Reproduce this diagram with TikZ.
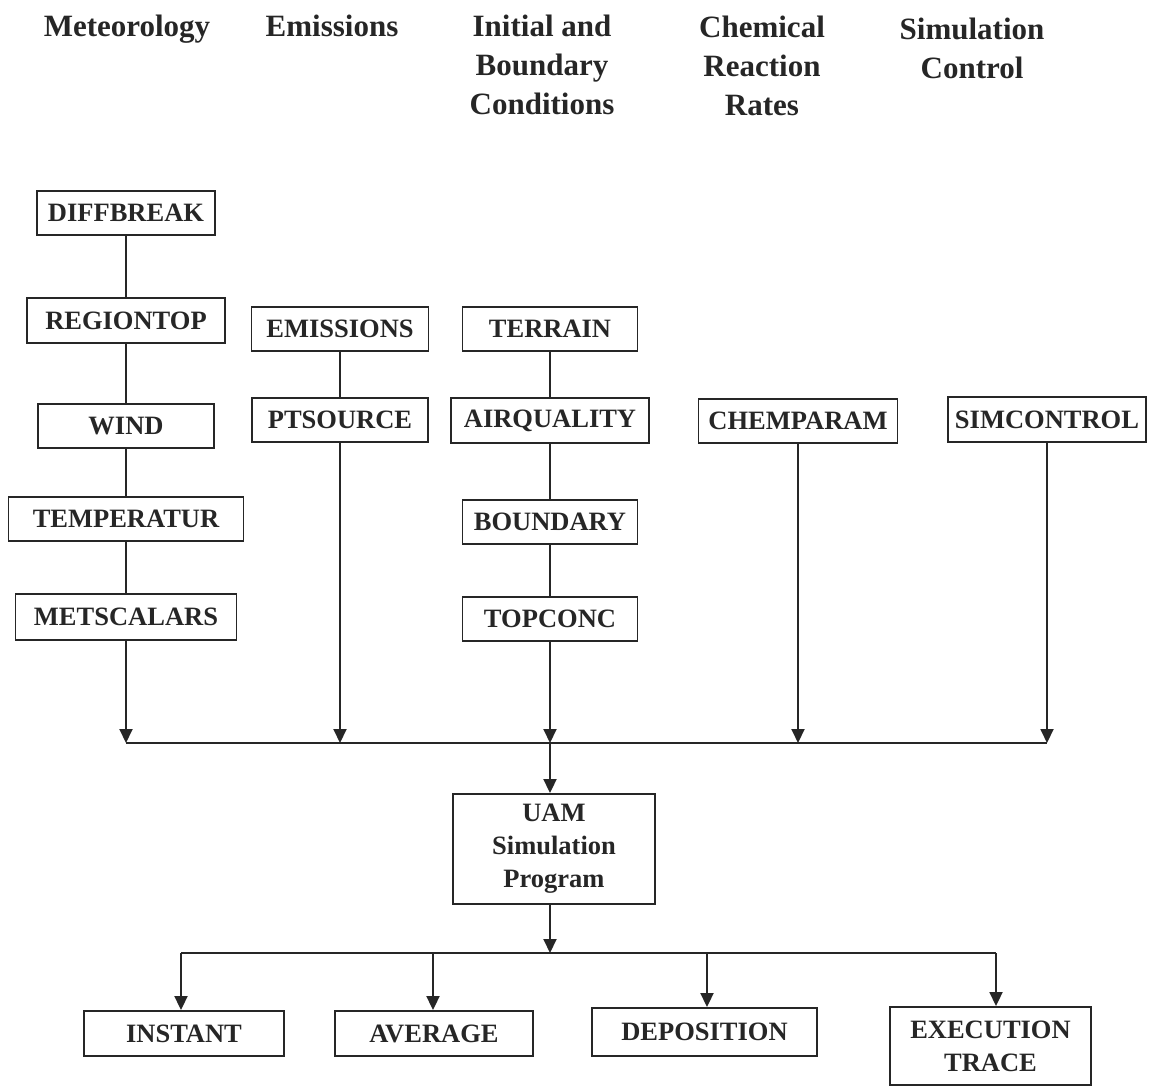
\documentclass[tikz,border=0pt]{standalone}
\usepackage{fontspec}
\setmainfont{Liberation Serif}
\usetikzlibrary{arrows.meta}
\definecolor{ink}{HTML}{262626}
\begin{document}
\begin{tikzpicture}[x=1pt,y=-1pt,
  box/.style={draw=ink, line width=1.9pt, inner sep=0pt, text=ink, align=center,
    font=\fontsize{26.5}{33}\selectfont\bfseries},
  head/.style={text=ink, inner sep=0pt, anchor=north, align=center,
    font=\fontsize{31}{39}\selectfont\bfseries},
  link/.style={draw=ink, line width=1.9pt},
  arr/.style={link, -{Triangle[length=14pt,width=13pt]}}]
\useasboundingbox (0,0) rectangle (1150,1087);

% headers
\node[head] (hmet)  at (127,15) {Meteorology};
\node[head] (hemi)  at (332,15) {Emissions};
\node[head] (hinit) at (542,15) {Initial and\\Boundary\\Conditions};
\node[head] (hchem) at (762,16) {Chemical\\Reaction\\Rates};
\node[head] (hsim)  at (972,18) {Simulation\\Control};

% meteorology column
\node[box, minimum width=178pt, minimum height=44pt] (diff) at (126,213) {DIFFBREAK};
\node[box, minimum width=198pt, minimum height=45pt] (reg)  at (126,320.5) {REGIONTOP};
\node[box, minimum width=176pt, minimum height=44pt] (wind) at (126,426) {WIND};
\node[box, minimum width=235pt, minimum height=44pt] (temp) at (126,519) {TEMPERATUR};
\node[box, minimum width=221pt, minimum height=46pt] (met)  at (126,617) {METSCALARS};

% emissions column
\node[box, minimum width=177pt, minimum height=44pt] (emis) at (340,329) {EMISSIONS};
\node[box, minimum width=176pt, minimum height=44pt] (pts)  at (340,420) {PTSOURCE};

% initial and boundary column
\node[box, minimum width=175pt, minimum height=44pt] (terr) at (550,329) {TERRAIN};
\node[box, minimum width=198pt, minimum height=45pt] (airq) at (550,420.5) {AIRQUALITY};
\node[box, minimum width=175pt, minimum height=44pt] (bnd)  at (550,522) {BOUNDARY};
\node[box, minimum width=175pt, minimum height=44pt] (topc) at (550,619) {TOPCONC};

% chemistry and control
\node[box, minimum width=199pt, minimum height=44pt] (chem) at (798,421) {CHEMPARAM};
\node[box, minimum width=198pt, minimum height=45pt] (sim)  at (1047,419.5) {SIMCONTROL};

% program
\node[box, minimum width=202pt, minimum height=110pt] (uam) at (554,849) {UAM\\Simulation\\Program};

% outputs
\node[box, minimum width=200pt, minimum height=45pt] (inst) at (184,1033.5) {INSTANT};
\node[box, minimum width=198pt, minimum height=45pt] (avg)  at (434,1033.5) {AVERAGE};
\node[box, minimum width=225pt, minimum height=48pt] (dep)  at (704.5,1032) {DEPOSITION};
\node[box, minimum width=201pt, minimum height=78pt] (exec) at (990.5,1046) {EXECUTION\\TRACE};

% bus coordinates
\coordinate (m1) at (126,743);
\coordinate (p1) at (340,743);
\coordinate (t1) at (550,743);
\coordinate (c1) at (798,743);
\coordinate (s1) at (1047,743);
\coordinate (u2) at (550,953);
\coordinate (o1) at (181,953);
\coordinate (o2) at (433,953);
\coordinate (o3) at (707,953);
\coordinate (o4) at (996,953);

% chains
\draw[link] (diff) -- (reg);
\draw[link] (reg) -- (wind);
\draw[link] (wind) -- (temp);
\draw[link] (temp) -- (met);
\draw[link] (emis) -- (pts);
\draw[link] (terr) -- (airq);
\draw[link] (airq) -- (bnd);
\draw[link] (bnd) -- (topc);

% input bus
\draw[link] (m1) -- (s1);
\draw[arr] (met) -- (m1);
\draw[arr] (pts) -- (p1);
\draw[arr] (topc) -- (t1);
\draw[arr] (chem) -- (c1);
\draw[arr] (sim) -- (s1);
\draw[arr] (t1) -- (t1 |- uam.north);

% output bus
\draw[arr] (uam.south -| u2) -- (u2);
\draw[link] (o1) -- (o4);
\draw[arr] (o1) -- (o1 |- inst.north);
\draw[arr] (o2) -- (o2 |- avg.north);
\draw[arr] (o3) -- (o3 |- dep.north);
\draw[arr] (o4) -- (o4 |- exec.north);
\end{tikzpicture}
\end{document}
